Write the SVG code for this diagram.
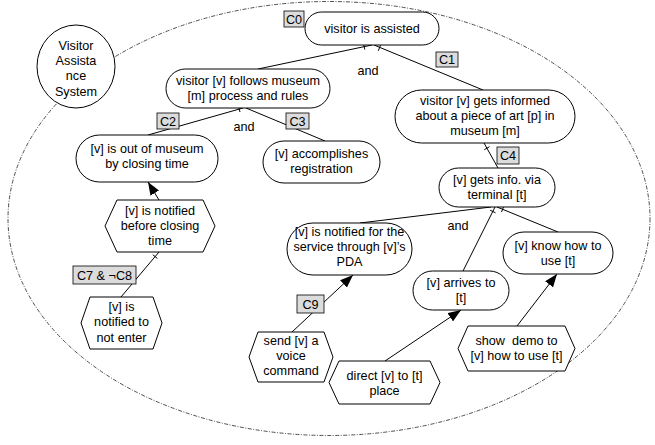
<svg xmlns="http://www.w3.org/2000/svg" width="655" height="445" viewBox="0 0 655 445">
<defs>
<marker id="ah" markerUnits="userSpaceOnUse" markerWidth="14" markerHeight="10" refX="13" refY="5" orient="auto">
<path d="M0,0 L13,5 L0,10 z" fill="#000"/>
</marker>
<style>
.n{fill:#fff;stroke:#000;stroke-width:1}
.lb{fill:#dcdcdc;stroke:#000;stroke-width:0.8}
.t{font-family:"Liberation Sans",Arial,sans-serif;font-size:13.6px;text-anchor:middle;fill:#000}
.e{stroke:#000;stroke-width:1;fill:none}
.a{stroke:#000;stroke-width:1;fill:none;marker-end:url(#ah)}
.b{fill:none;stroke:#222;stroke-width:0.8;stroke-dasharray:4 1.5 1 1.5}
</style>
</defs>
<rect width="655" height="445" fill="#fff"/>
<ellipse id="boundary" class="b" cx="329" cy="218.5" rx="321" ry="217"/>
<g id="actor">
<ellipse class="n" cx="76" cy="66.5" rx="39" ry="41.5"/>
<text class="t" transform="translate(76,50) scale(.93 1)"><tspan x="0">Visitor</tspan><tspan x="0" dy="15.2">Assista</tspan><tspan x="0" dy="15.2">nce</tspan><tspan x="0" dy="15.2">System</tspan></text>
</g>
<g id="connectors">
<line class="e" x1="258" y1="69" x2="372" y2="45"/>
<line class="e" x1="364.8" y1="49.5" x2="363.6" y2="43.7"/>
<line class="e" x1="483" y1="90" x2="374" y2="45"/>
<line class="e" x1="378.3" y1="50.8" x2="380.5" y2="45.2"/>
<line class="e" x1="148" y1="135" x2="243" y2="108"/>
<line class="e" x1="240" y1="112" x2="238.4" y2="106.2"/>
<line class="e" x1="325" y1="141" x2="246" y2="108"/>
<line class="e" x1="484" y1="143" x2="498" y2="168"/>
<line class="e" x1="489.5" y1="146.7" x2="484.3" y2="149.7"/>
<line class="e" x1="360" y1="223" x2="491" y2="207"/>
<line class="e" x1="463" y1="271" x2="495" y2="207"/>
<line class="e" x1="495.5" y1="212.8" x2="490.1" y2="210.2"/>
<line class="e" x1="558" y1="232" x2="497" y2="207"/>
<line class="e" x1="501.5" y1="212.1" x2="503.7" y2="206.5"/>
<line class="a" x1="159" y1="200" x2="148" y2="182"/>
<line class="e" x1="121" y1="297" x2="159" y2="252"/>
<line class="e" x1="157.4" y1="258.5" x2="152.8" y2="254.7"/>
<line class="a" x1="292" y1="332" x2="353" y2="275"/>
<line class="a" x1="385" y1="361" x2="461" y2="310"/>
<line class="a" x1="517" y1="326" x2="557" y2="274"/>
<text class="t" transform="translate(368,75) scale(.93 1)">and</text>
<text class="t" transform="translate(244,131) scale(.93 1)">and</text>
<text class="t" transform="translate(458,230) scale(.93 1)">and</text>
</g>
<g id="n-root">
<rect class="n" x="305" y="12" width="134" height="33" rx="16.5"/>
<text class="t" transform="translate(372,33) scale(.93 1)">visitor is assisted</text>
</g>
<g id="l-c0">
<rect class="lb" x="284" y="11" width="20" height="16"/>
<text class="t" transform="translate(294,24) scale(.93 1)">C0</text>
</g>
<g id="n-follows">
<rect class="n" x="166" y="69" width="164" height="39" rx="19.5"/>
<text class="t" transform="translate(248,84.5) scale(.93 1)"><tspan x="0">visitor [v] follows museum</tspan><tspan x="0" dy="15.2">[m] process and rules</tspan></text>
</g>
<g id="n-informed">
<rect class="n" x="395" y="90" width="180" height="53" rx="26.5"/>
<text class="t" transform="translate(485,104.5) scale(.93 1)"><tspan x="0">visitor [v] gets informed</tspan><tspan x="0" dy="15.2">about a piece of art [p] in</tspan><tspan x="0" dy="15.2">museum [m]</tspan></text>
</g>
<g id="l-c1">
<rect class="lb" x="436" y="52" width="22" height="15"/>
<text class="t" transform="translate(447,64) scale(.93 1)">C1</text>
</g>
<g id="l-c2">
<rect class="lb" x="157" y="113" width="22" height="16"/>
<text class="t" transform="translate(168,126) scale(.93 1)">C2</text>
</g>
<g id="l-c3">
<rect class="lb" x="286" y="113" width="23" height="16"/>
<text class="t" transform="translate(297.5,126) scale(.93 1)">C3</text>
</g>
<g id="n-outmuseum">
<rect class="n" x="76" y="135" width="142" height="47" rx="23.5"/>
<text class="t" transform="translate(147,153) scale(.93 1)"><tspan x="0">[v] is out of museum</tspan><tspan x="0" dy="15.2">by closing time</tspan></text>
</g>
<g id="n-registration">
<rect class="n" x="263" y="141" width="117" height="42" rx="21"/>
<text class="t" transform="translate(321.5,158) scale(.93 1)"><tspan x="0">[v] accomplishes</tspan><tspan x="0" dy="15.2">registration</tspan></text>
</g>
<g id="l-c4">
<rect class="lb" x="497" y="147" width="22" height="17"/>
<text class="t" transform="translate(508,160) scale(.93 1)">C4</text>
</g>
<g id="n-getsinfo">
<rect class="n" x="439" y="168" width="116" height="39" rx="19.5"/>
<text class="t" transform="translate(497,184) scale(.93 1)"><tspan x="0">[v] gets info. via</tspan><tspan x="0" dy="15.2">terminal [t]</tspan></text>
</g>
<g id="n-pda">
<rect class="n" x="287" y="223" width="125" height="52" rx="26"/>
<text class="t" transform="translate(349.5,235.5) scale(.93 1)"><tspan x="0">[v] is notified for the</tspan><tspan x="0" dy="15.2">service through [v]’s</tspan><tspan x="0" dy="15.2">PDA</tspan></text>
</g>
<g id="n-know">
<rect class="n" x="503" y="232" width="110" height="42" rx="21"/>
<text class="t" transform="translate(558,249.5) scale(.93 1)"><tspan x="0">[v] know how to</tspan><tspan x="0" dy="15.2">use [t]</tspan></text>
</g>
<g id="n-arrives">
<rect class="n" x="413" y="271" width="96" height="39" rx="19.5"/>
<text class="t" transform="translate(461,287) scale(.93 1)"><tspan x="0">[v] arrives to</tspan><tspan x="0" dy="15.2">[t]</tspan></text>
</g>
<g id="n-beforeclosing">
<polygon class="n" points="117,200 203,200 215,226 203,252 117,252 105,226"/>
<text class="t" transform="translate(160,215) scale(.93 1)"><tspan x="0">[v] is notified</tspan><tspan x="0" dy="15.2">before closing</tspan><tspan x="0" dy="15.2">time</tspan></text>
</g>
<g id="l-c7c8">
<rect class="lb" x="73" y="266" width="63" height="18"/>
<text class="t" transform="translate(104.5,280) scale(.93 1)">C7 &amp; ¬C8</text>
</g>
<g id="n-notenter">
<polygon class="n" points="90,297 153,297 162,323 153,349 90,349 81,323"/>
<text class="t" transform="translate(121.5,311) scale(.93 1)"><tspan x="0">[v] is</tspan><tspan x="0" dy="15.5">notified to</tspan><tspan x="0" dy="15.5">not enter</tspan></text>
</g>
<g id="l-c9">
<rect class="lb" x="297" y="295" width="27" height="18"/>
<text class="t" transform="translate(310.5,309) scale(.93 1)">C9</text>
</g>
<g id="n-send">
<polygon class="n" points="258,332 324,332 333,357 324,382 258,382 249,357"/>
<text class="t" transform="translate(291,345) scale(.93 1)"><tspan x="0">send [v] a</tspan><tspan x="0" dy="15.2">voice</tspan><tspan x="0" dy="15.2">command</tspan></text>
</g>
<g id="n-direct">
<polygon class="n" points="339,361 430,361 440,382.5 430,404 339,404 329,382.5"/>
<text class="t" transform="translate(384.5,379.5) scale(.93 1)"><tspan x="0">direct [v] to [t]</tspan><tspan x="0" dy="15.2">place</tspan></text>
</g>
<g id="n-show">
<polygon class="n" points="468,326 565,326 575,348.5 565,371 468,371 458,348.5"/>
<text class="t" xml:space="preserve" transform="translate(516.5,345) scale(.93 1)"><tspan x="0">show  demo to</tspan><tspan x="0" dy="15.2">[v] how to use [t]</tspan></text>
</g>
</svg>
